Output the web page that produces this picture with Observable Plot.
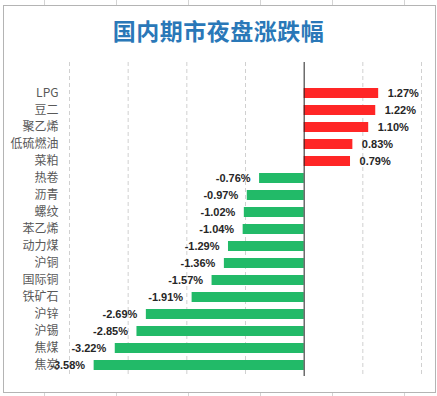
<!DOCTYPE html>
<html>
<head>
<meta charset="utf-8">
<script src="https://cdn.jsdelivr.net/npm/d3@7"></script>
<script src="https://cdn.jsdelivr.net/npm/@observablehq/plot@0.6"></script>
<style>
  html, body { margin: 0; padding: 0; background: #fff; }
  #wrap { position: relative; width: 437px; height: 396px; overflow: hidden;
    background-image: linear-gradient(to right, #d4d4d4 1px, transparent 1px);
    background-size: 72px 100%; background-position: 44px 0; }
  #box { position: absolute; left: 3px; top: 5px; width: 431px; height: 386px;
    border: 1px solid #b4b4b4; background: #fff; }
  #title { position: absolute; left: 0; top: 14px; width: 437px; text-align: center;
    font-family: "Noto Sans CJK SC", sans-serif; font-weight: bold; font-size: 23px;
    color: #2a78b8; letter-spacing: 0.5px; line-height: 32px; }
  #chart { position: absolute; left: 0; top: 60px; }
  #chart svg { overflow: visible; }
</style>
</head>
<body>
<div id="wrap">
  <div id="box"></div>
  <div id="title">国内期市夜盘涨跌幅</div>
  <div id="chart"></div>
</div>
<script>
const categories = ["LPG","豆二","聚乙烯","低硫燃油","菜粕","热卷","沥青","螺纹","苯乙烯","动力煤","沪铜","国际铜","铁矿石","沪锌","沪锡","焦煤","焦炭"];
const changes = [1.27,1.22,1.10,0.83,0.79,-0.76,-0.97,-1.02,-1.04,-1.29,-1.36,-1.57,-1.91,-2.69,-2.85,-3.22,-3.58];
const gridTicks = [-4,-3,-2,-1,1,2];

const data = categories.map((c, i) => ({name: c, value: changes[i]}));
const pos = data.filter(d => d.value >= 0);
const neg = data.filter(d => d.value < 0);
const fmt = d => d.value.toFixed(2) + "%";

const chart = Plot.plot({
  width: 437,
  height: 336,
  marginTop: 2,
  marginBottom: 20,
  marginLeft: 69,
  marginRight: 16,
  style: {background: "transparent"},
  x: {domain: [-4, 2], axis: null},
  y: {domain: categories, paddingInner: 0.43, paddingOuter: 0, insetTop: 23, insetBottom: 3, axis: null},
  marks: [
    Plot.ruleX(gridTicks, {stroke: "#d0d0d0", strokeDasharray: "4,3", strokeWidth: 1}),
    Plot.barX(data, {x: "value", y: "name", fill: d => d.value >= 0 ? "#ff2626" : "#22ba68"}),
    Plot.ruleX([0], {stroke: "#222", strokeWidth: 1}),
    Plot.text(pos, {x: "value", y: "name", text: fmt, dx: 9, textAnchor: "start",
      fontWeight: "bold", fontSize: 11, fill: "#262626", fontFamily: "Liberation Sans, Arial, sans-serif"}),
    Plot.text(neg, {x: "value", y: "name", text: fmt, dx: -9, textAnchor: "end",
      fontWeight: "bold", fontSize: 11, fill: "#262626", fontFamily: "Liberation Sans, Arial, sans-serif"}),
    Plot.axisY({tickSize: 0, tickPadding: 11, fontSize: 12, fill: "#595959",
      fontFamily: "Noto Sans CJK SC, sans-serif", label: null})
  ]
});
document.getElementById("chart").appendChild(chart);
</script>
</body>
</html>
